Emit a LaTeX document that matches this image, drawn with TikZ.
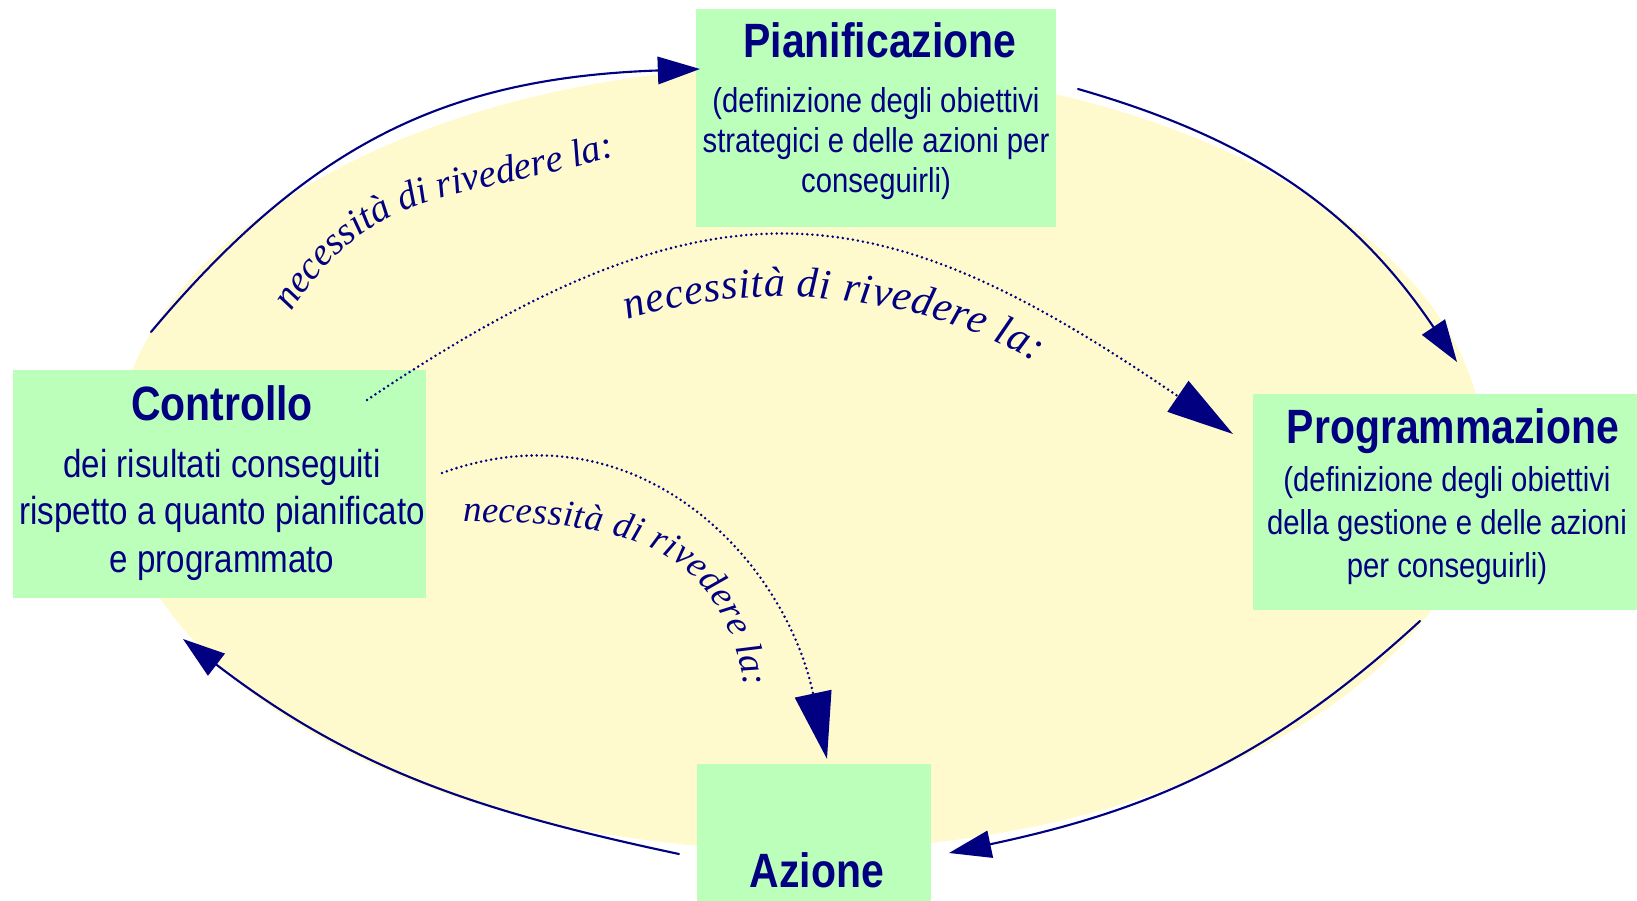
\documentclass[tikz,border=0pt]{standalone}
\usepackage{fontspec}
\usetikzlibrary{arrows.meta,decorations.text}
\newfontfamily\boxfont[FakeStretch=0.85]{Liberation Sans}
\newfontfamily\wordfont{Liberation Serif}
\definecolor{inkblue}{RGB}{0,0,128}
\definecolor{boxgreen}{RGB}{187,255,187}
\definecolor{paleyellow}{RGB}{255,250,205}
\begin{document}
\begin{tikzpicture}[line join=round, line cap=round,
		box/.style={fill=boxgreen, draw=none, inner sep=0pt},
		title/.style={font=\boxfont\bfseries\fontsize{13.7}{16}\selectfont, text=inkblue, inner sep=0pt},
		body/.style={font=\boxfont\fontsize{9.8}{11.4}\selectfont, text=inkblue, align=center, inner sep=0pt},
		outer/.style={draw=inkblue, line width=0.6pt, -{Triangle[length=12pt,width=7.8pt]}},
		review/.style={draw=inkblue, line width=0.8pt, dash pattern=on 0pt off 1.45pt, -{Triangle[length=19pt,width=10.5pt]}},
		curvedtext/.style={decorate, decoration={text along path, text align=fit to path, text color=inkblue, text={|\wordfont\itshape\fontsize{#1}{14}\selectfont|necessità di rivedere la:}}}]
	\useasboundingbox (0,0) rectangle (16.37,-9.01);
	\clip (0,0) rectangle (16.37,-9.01);
	% ellisse di sfondo
	\fill[paleyellow] (8.00,-4.58) ellipse [x radius=6.85, y radius=3.92];
	% riquadri
	\node[box, minimum width=3.60cm, minimum height=2.18cm] (pian) at (8.76,-1.18) {};
	\node[box, minimum width=4.13cm, minimum height=2.28cm] (contr) at (2.195,-4.84) {};
	\node[box, minimum width=4.47cm, minimum height=2.16cm] (progr) at (14.765,-5.02) {};
	\node[box, minimum width=2.34cm, minimum height=1.96cm] (az) at (8.14,-8.62) {};
	% testi (base = ultima riga)
	\node[title, anchor=base] (piantit) at (8.80,-0.58) {Pianificazione};
	\node[body, anchor=base] (pianbody) at (8.76,-1.93) {(definizione degli obiettivi\\strategici e delle azioni per\\conseguirli)};
	\node[title, anchor=base] (contrtit) at (2.22,-4.20) {Controllo};
	\node[body, anchor=base, font=\boxfont\fontsize{11.1}{13.4}\selectfont] (contrbody) at (2.22,-5.72) {dei risultati conseguiti\\rispetto a quanto pianificato\\e programmato};
	\node[title, anchor=base] (progrtit) at (14.53,-4.43) {Programmazione};
	\node[body, anchor=base, font=\boxfont\fontsize{9.8}{12.2}\selectfont] (progrbody) at (14.47,-5.77) {(definizione degli obiettivi\\della gestione e delle azioni\\per conseguirli)};
	\node[title, anchor=base] (aztit) at (8.17,-8.87) {Azione};
	% ciclo esterno
	\coordinate (a1s) at (1.51,-3.32); \coordinate (a1e) at (7.00,-0.69);
	\coordinate (a2s) at (10.78,-0.89); \coordinate (a2e) at (14.57,-3.62);
	\coordinate (a3s) at (14.20,-6.21); \coordinate (a3e) at (9.49,-8.53);
	\coordinate (a4s) at (6.79,-8.54); \coordinate (a4e) at (1.83,-6.39);
	\draw[outer] (a1s) to[out=50, in=182, looseness=1.05] (a1e);
	\draw[outer] (a2s) to[out=-16, in=124] (a2e);
	\draw[outer] (a3s) to[out=222.6, in=12] (a3e);
	\draw[outer] (a4s) to[out=168, in=-37.5] (a4e);
	% ritorni tratteggiati
	\coordinate (r1s) at (3.67,-4.00); \coordinate (r1e) at (12.33,-4.34);
	\coordinate (r2s) at (4.42,-4.73); \coordinate (r2e) at (8.27,-7.59);
	\draw[review] (r1s) to[out=34, in=145.6, looseness=1.25] (r1e);
	\draw[review] (r2s) to[out=20, in=102, looseness=1.1] (r2e);
	% scritte curve
	\path[curvedtext=11] (2.92,-3.12) to[out=58, in=197, looseness=1.1] (6.16,-1.56);
	\path[curvedtext=12] (6.28,-3.20) to[out=18, in=150, looseness=0.85] (10.36,-3.62);
	\path[curvedtext=10.5] (4.63,-5.22) to[out=0, in=100, looseness=1.2] (7.45,-6.88);
\end{tikzpicture}
\end{document}
